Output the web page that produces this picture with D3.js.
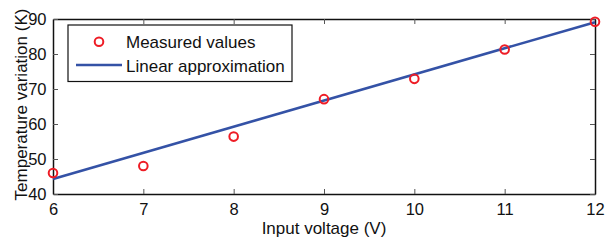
<!DOCTYPE html>
<html>
<head>
<meta charset="utf-8">
<script src="https://d3js.org/d3.v7.min.js"></script>
<style>
  body { margin: 0; background: #fff; }
  text { font-family: "Liberation Sans", Arial, sans-serif; fill: #111; }
</style>
</head>
<body>
<div id="chart"></div>
<script>
// measured points
var voltage = [6, 7, 8, 9, 10, 11, 12];
var tempVar = [46, 48, 56.4, 67.1, 72.9, 81.3, 89.2];
// linear approximation end points
var fitX = [6, 12];
var fitY = [44.3, 89.1];
var xTicks = [6, 7, 8, 9, 10, 11, 12];
var yTicks = [40, 50, 60, 70, 80, 90];

var w = 605, h = 240;
var margin = {left: 53, right: 10, top: 19, bottom: 46};

var svg = d3.select("#chart").append("svg").attr("width", w).attr("height", h);

var x = d3.scaleLinear().domain([6, 12]).range([margin.left, w - margin.right]);
var y = d3.scaleLinear().domain([40, 90]).range([h - margin.bottom, margin.top]);

var axisCol = "#111";

// frame + inner ticks (matlab style)
function styleAxis(g) {
    g.select(".domain").attr("stroke", axisCol).attr("stroke-width", 1.5);
    g.selectAll(".tick line").attr("stroke", "#555").attr("stroke-width", 1);
    g.selectAll(".tick text").attr("font-size", "16.5px").attr("fill", axisCol)
        .attr("font-family", "Liberation Sans, Arial, sans-serif");
}

svg.append("g").attr("transform", "translate(0," + (h - margin.bottom) + ")")
    .call(d3.axisBottom(x).tickValues(xTicks).tickFormat(d3.format("d")).tickSizeInner(-5).tickSizeOuter(0).tickPadding(9))
    .call(styleAxis);
svg.append("g").attr("transform", "translate(0," + margin.top + ")")
    .call(d3.axisTop(x).tickValues(xTicks).tickSizeInner(-5).tickSizeOuter(0).tickFormat(""))
    .call(styleAxis);
svg.append("g").attr("transform", "translate(" + margin.left + ",0)")
    .call(d3.axisLeft(y).tickValues(yTicks).tickFormat(d3.format("d")).tickSizeInner(-5).tickSizeOuter(0).tickPadding(6.5))
    .call(styleAxis);
svg.append("g").attr("transform", "translate(" + (w - margin.right) + ",0)")
    .call(d3.axisRight(y).tickValues(yTicks).tickSizeInner(-5).tickSizeOuter(0).tickFormat(""))
    .call(styleAxis);

// fit line
var line = d3.line().x(function(d) { return x(d[0]); }).y(function(d) { return y(d[1]); });
svg.append("path")
    .datum(d3.zip(fitX, fitY))
    .attr("d", line)
    .attr("fill", "none")
    .attr("stroke", "#3452a6")
    .attr("stroke-width", 2.6);

// measured circles
svg.selectAll("circle.pt").data(d3.zip(voltage, tempVar)).enter()
    .append("circle")
    .attr("class", "pt")
    .attr("cx", function(d) { return x(d[0]); })
    .attr("cy", function(d) { return y(d[1]); })
    .attr("r", 4.3)
    .attr("fill", "none")
    .attr("stroke", "#ee1c25")
    .attr("stroke-width", 2);

// axis labels
svg.append("text")
    .attr("x", x(9)).attr("y", 234)
    .attr("text-anchor", "middle")
    .attr("font-size", "17px")
    .text("Input voltage (V)");
svg.append("text")
    .attr("transform", "translate(27," + ((margin.top + h - margin.bottom) / 2 - 2) + ") rotate(-90)")
    .attr("text-anchor", "middle")
    .attr("font-size", "17px")
    .text("Temperature variation (K)");

// legend
var lg = svg.append("g");
lg.append("rect")
    .attr("x", 68).attr("y", 25).attr("width", 224).attr("height", 56.5)
    .attr("fill", "#fff").attr("stroke", axisCol).attr("stroke-width", 1.2);
lg.append("circle")
    .attr("cx", 99).attr("cy", 41.7).attr("r", 4.3)
    .attr("fill", "none").attr("stroke", "#ee1c25").attr("stroke-width", 2);
lg.append("text").attr("x", 126).attr("y", 47.5).attr("font-size", "17px").text("Measured values");
lg.append("line")
    .attr("x1", 76).attr("x2", 122).attr("y1", 65).attr("y2", 65)
    .attr("stroke", "#3452a6").attr("stroke-width", 2.6);
lg.append("text").attr("x", 126).attr("y", 71.5).attr("font-size", "17px").text("Linear approximation");
</script>
</body>
</html>
